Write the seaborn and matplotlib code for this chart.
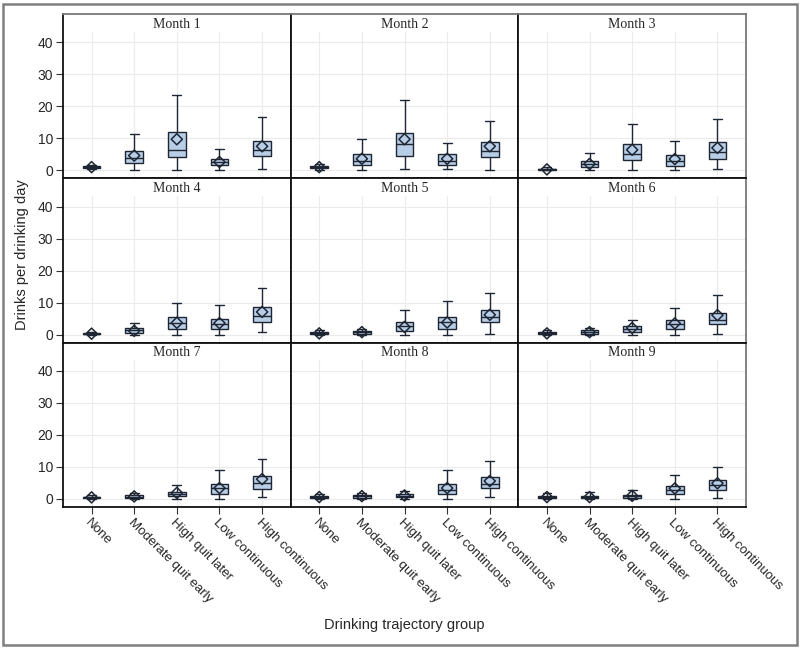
import numpy as np
import pandas as pd
import matplotlib
matplotlib.use("Agg")
import matplotlib.pyplot as plt
from matplotlib.patches import Rectangle
import seaborn as sns

groups = ["None", "Moderate quit early", "High quit later", "Low continuous", "High continuous"]
months = ["Month %d" % i for i in range(1, 10)]

# rows = months 1..9, columns = groups
whisker_low = [
    [0.5, 0.2, 0.2, 0.2, 0.4],
    [0.0, 0.0, 0.4, 0.3, 0.1],
    [0.0, 0.0, 0.1, 0.2, 0.5],
    [0.0, 0.0, 0.0, 0.0, 0.9],
    [0.0, 0.0, 0.0, 0.0, 0.1],
    [0.0, 0.0, 0.0, 0.0, 0.3],
    [0.0, 0.0, 0.0, 0.0, 0.5],
    [0.0, 0.0, 0.0, 0.1, 0.5],
    [0.0, 0.0, 0.0, 0.0, 0.4],
]
q1 = [
    [0.8, 2.4, 4.1, 1.6, 4.4],
    [0.6, 1.7, 4.6, 1.8, 4.2],
    [0.1, 0.9, 3.1, 1.5, 3.4],
    [0.1, 0.6, 1.8, 1.9, 4.1],
    [0.2, 0.3, 1.1, 1.9, 3.8],
    [0.2, 0.3, 0.7, 1.9, 3.2],
    [0.3, 0.3, 0.8, 1.6, 3.2],
    [0.3, 0.4, 0.5, 1.6, 3.4],
    [0.3, 0.3, 0.4, 1.5, 2.9],
]
median = [
    [1.0, 4.0, 6.5, 2.5, 6.3],
    [1.0, 3.0, 8.1, 3.0, 6.1],
    [0.3, 1.9, 5.0, 2.9, 5.6],
    [0.3, 1.3, 3.5, 3.2, 5.7],
    [0.4, 0.7, 2.7, 3.8, 5.4],
    [0.4, 0.8, 1.9, 3.2, 4.5],
    [0.5, 0.7, 1.6, 3.4, 4.9],
    [0.6, 0.9, 1.0, 2.8, 4.7],
    [0.6, 0.6, 0.9, 2.7, 4.4],
]
q3 = [
    [1.3, 5.9, 12.1, 3.6, 9.3],
    [1.4, 5.1, 11.8, 5.1, 8.8],
    [0.5, 2.9, 8.1, 4.7, 8.7],
    [0.5, 2.0, 5.4, 5.0, 8.5],
    [0.7, 1.2, 3.8, 5.5, 7.8],
    [0.7, 1.5, 2.7, 4.6, 6.9],
    [0.7, 1.2, 2.2, 4.6, 7.1],
    [0.8, 1.3, 1.5, 4.7, 7.0],
    [0.9, 1.0, 1.4, 4.1, 5.9],
]
whisker_high = [
    [1.6, 11.2, 23.6, 6.7, 16.5],
    [2.1, 9.8, 21.9, 8.5, 15.3],
    [1.0, 5.5, 14.5, 9.1, 15.9],
    [0.9, 3.5, 9.8, 9.3, 14.7],
    [1.3, 1.8, 7.7, 10.4, 13.0],
    [1.5, 2.2, 4.6, 8.4, 12.3],
    [1.3, 2.0, 4.4, 9.1, 12.6],
    [1.6, 2.0, 2.6, 9.2, 11.9],
    [1.9, 2.1, 2.7, 7.5, 9.9],
]
mean = [
    [1.0, 4.6, 9.7, 2.6, 7.5],
    [1.0, 3.6, 9.7, 3.6, 7.5],
    [0.3, 2.0, 6.4, 3.5, 7.0],
    [0.3, 1.2, 3.7, 3.6, 7.1],
    [0.4, 0.8, 2.4, 3.8, 6.2],
    [0.4, 0.8, 2.1, 3.5, 6.1],
    [0.5, 0.8, 1.9, 3.4, 6.2],
    [0.6, 0.9, 1.1, 3.4, 5.6],
    [0.6, 0.6, 1.0, 3.3, 4.9],
]
yticks = [0, 10, 20, 30, 40]

# Five-number summaries as long table (min, q1, median, q3, max per box)
rows = []
for mi, m in enumerate(months):
    for gi, g in enumerate(groups):
        for v in (whisker_low[mi][gi], q1[mi][gi], median[mi][gi], q3[mi][gi], whisker_high[mi][gi]):
            rows.append({"month": m, "group": g, "value": v})
df = pd.DataFrame(rows)

sns.set_style("white")
plt.rcParams["font.family"] = ["Liberation Sans", "DejaVu Sans"]

fill = "#b8cde6"
edge = "#1e2533"

fig, axes = plt.subplots(3, 3, figsize=(8.0, 6.49), dpi=100, sharex=True, sharey=True)
fig.subplots_adjust(left=63 / 800, right=746 / 800, top=1 - 14 / 649, bottom=1 - 507 / 649,
                    wspace=0, hspace=0)

for mi, m in enumerate(months):
    ax = axes.flat[mi]
    sub = df[df["month"] == m]
    ax.axhspan(43.6, 50, color="white", zorder=1)
    sns.boxplot(data=sub, x="group", y="value", order=groups, whis=(0, 100), width=0.41,
                color=fill, saturation=1, linecolor=edge, linewidth=1.0, fliersize=0, ax=ax)
    sns.scatterplot(x=np.arange(len(groups)), y=mean[mi], marker="D", s=32, facecolor="none",
                    edgecolor=edge, linewidth=1.1, zorder=6, ax=ax, legend=False)
    ax.set_xlim(-0.67, 4.67)
    ax.set_ylim(-2.5, 48.8)
    ax.set_yticks(yticks)
    ax.grid(True, color="#ebebeb", linewidth=0.8)
    ax.set_axisbelow(True)
    ax.set_xlabel("")
    ax.set_ylabel("")
    ax.text(0.5, 1 - 10 / 164, m, transform=ax.transAxes, ha="center", va="center",
            fontsize=10, family=["Liberation Serif", "DejaVu Serif"], zorder=7)
    for s in ax.spines.values():
        s.set_color("#111111")
        s.set_linewidth(1.3)
    ax.tick_params(axis="both", direction="out", length=5, width=0.8, color="#333333",
                   labelsize=10, pad=2)
    if mi % 3 != 0:
        ax.tick_params(axis="y", left=False)
    else:
        ax.tick_params(axis="y", left=True)
    if mi < 6:
        ax.tick_params(axis="x", bottom=False)
    else:
        ax.tick_params(axis="x", bottom=True)
        ax.set_xticks(range(len(groups)))
        ax.set_xticklabels(groups, rotation=-45, ha="left", va="top", rotation_mode="anchor",
                           fontsize=9.5)

for ax in axes[0, :]:
    ax.spines["top"].set_color("#777777")
for ax in axes[:, 2]:
    ax.spines["right"].set_color("#777777")

fig.text(22 / 800, 1 - 255 / 649, "Drinks per drinking day", rotation=90, ha="center",
         va="center", fontsize=10.5)
fig.text(404 / 800, 1 - 625 / 649, "Drinking trajectory group", ha="center", va="center",
         fontsize=10.5)

fig.patches.append(Rectangle((3 / 800, 4 / 649), 794 / 800, 641 / 649, transform=fig.transFigure,
                             fill=False, edgecolor="#7f7f7f", linewidth=1.8))

fig.savefig("out.png", dpi=100)
